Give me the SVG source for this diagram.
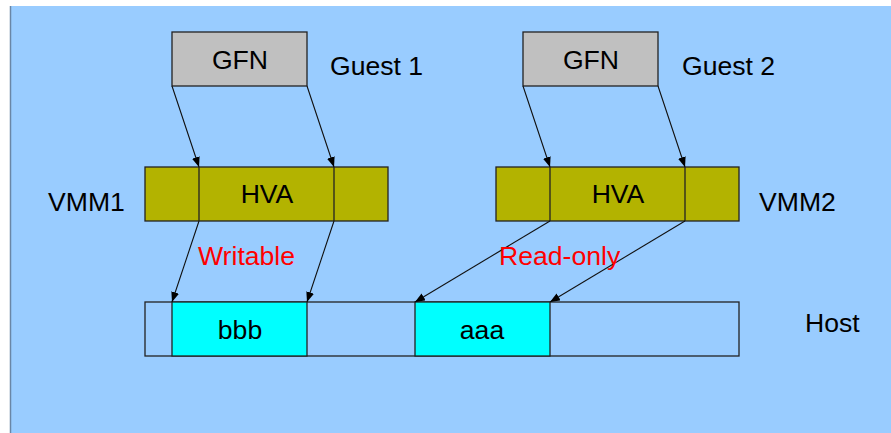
<svg xmlns="http://www.w3.org/2000/svg" width="891" height="433" viewBox="0 0 891 433">
<defs>
<style>
text{font-family:"Liberation Sans",Arial,sans-serif;font-size:26.6px;fill:#000}
.lbl{text-anchor:middle}
.red{fill:#FF0000}
.gfn{fill:#C0C0C0;stroke:#222;stroke-width:1.3}
.hva{fill:#B3B300;stroke:#222;stroke-width:1.3}
.cell{fill:#00FFFF;stroke:#222;stroke-width:1.3}
.host{fill:none;stroke:#222;stroke-width:1.3}
.div{stroke:#222;stroke-width:1.3}
.conn line{stroke:#111;stroke-width:1.1;marker-end:url(#ah)}
</style>
<marker id="ah" viewBox="0 0 10 8" refX="10" refY="4" markerWidth="10" markerHeight="8" markerUnits="userSpaceOnUse" orient="auto">
<path d="M0,0 L10,4 L0,8 Z" fill="#000"/>
</marker>
</defs>
<rect x="0" y="0" width="891" height="433" fill="#FFFFFF"/>
<rect x="10" y="6" width="881" height="427" fill="#99CCFF"/>
<line x1="10.5" y1="6" x2="10.5" y2="433" stroke="#6A86A6" stroke-width="1.5"/>

<g id="gfn1"><rect class="gfn" x="172" y="32" width="135" height="54"/><text class="lbl" x="240" y="69">GFN</text></g>
<g id="guest1"><text x="330" y="75">Guest 1</text></g>
<g id="gfn2"><rect class="gfn" x="523" y="32" width="135" height="54"/><text class="lbl" x="591" y="69">GFN</text></g>
<g id="guest2"><text x="682" y="75">Guest 2</text></g>

<g id="hva1"><rect class="hva" x="145" y="167" width="243" height="54"/><line class="div" x1="199" y1="167" x2="199" y2="221"/><line class="div" x1="334" y1="167" x2="334" y2="221"/><text class="lbl" x="267" y="203">HVA</text></g>
<g id="vmm1"><text x="48" y="211">VMM1</text></g>
<g id="hva2"><rect class="hva" x="496" y="167" width="243" height="54"/><line class="div" x1="550" y1="167" x2="550" y2="221"/><line class="div" x1="685" y1="167" x2="685" y2="221"/><text class="lbl" x="618" y="203">HVA</text></g>
<g id="vmm2"><text x="759" y="211">VMM2</text></g>

<g id="host"><rect class="host" x="145" y="302" width="594" height="54"/>
<rect class="cell" x="172" y="302" width="135" height="54"/><text class="lbl" x="240" y="339">bbb</text>
<rect class="cell" x="415" y="302" width="135" height="54"/><text class="lbl" x="482" y="339">aaa</text></g>
<g id="hostlabel"><text x="805" y="332">Host</text></g>

<g class="conn" id="connectors">
<line x1="172" y1="86" x2="199" y2="167"/>
<line x1="307" y1="86" x2="334" y2="167"/>
<line x1="523" y1="86" x2="550" y2="167"/>
<line x1="658" y1="86" x2="685" y2="167"/>
<line x1="199" y1="221" x2="172" y2="302"/>
<line x1="334" y1="221" x2="307" y2="302"/>
<line x1="550" y1="221" x2="415" y2="302"/>
<line x1="685" y1="221" x2="550" y2="302"/>
</g>
<text class="red" x="198" y="265">Writable</text>
<text class="red" x="499" y="265">Read-only</text>
</svg>
